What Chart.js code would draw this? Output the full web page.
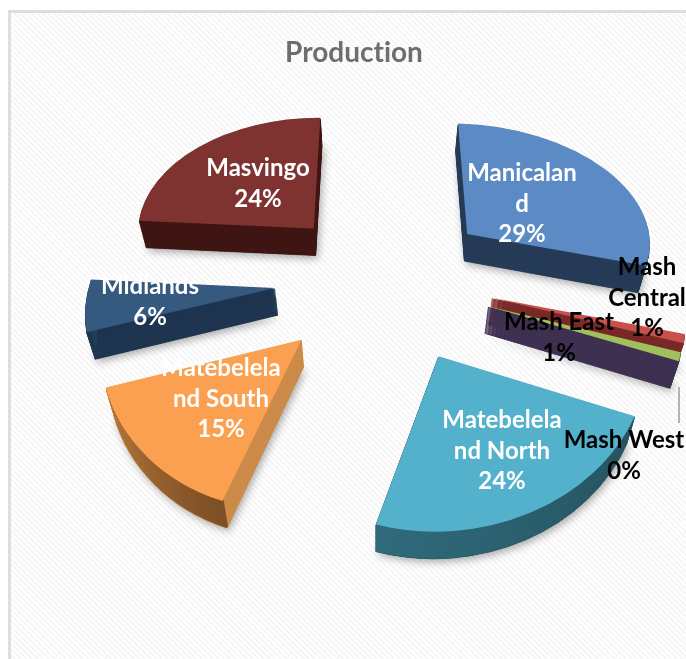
<!DOCTYPE html>
<html>
<head>
    <meta charset="utf-8">
    <title>Production</title>
    <script src="https://cdn.jsdelivr.net/npm/chart.js"></script>
    <style>
        html, body { margin: 0; padding: 0; background: #fff; }
        #frame {
            position: absolute; left: 8px; top: 10px; width: 678px; height: 649px;
            border-left: 3px solid #dedede; border-top: 3px solid #dedede; box-sizing: border-box;
            background: repeating-linear-gradient(45deg, #ffffff 0, #ffffff 2px, #f6f6f6 2px, #f6f6f6 4px);
        }
        canvas { position: absolute; left: 0; top: 0; }
    </style>
</head>
<body>
<div id="frame"></div>
<canvas id="productionChart" width="686" height="659"></canvas>

<script>
    var regions = ['Manicaland', 'Mash Central', 'Mash East', 'Mash West',
                   'Matebeleland North', 'Matebeleland South', 'Midlands', 'Masvingo'];
    var production = [29, 1, 1, 0, 24, 15, 6, 24];

    var topColors  = ['#5b8ac5', '#c9504d', '#a0c05c', '#8064a2', '#53b1cc', '#fb9f50', '#35597f', '#7f3330'];
    var wallColors = ['#263b57', '#7a2a28', '#3f3151', '#3f3151', '#265360', '#cd8b4a', '#1f3550', '#3f1614'];
    // rounded outer edge: colour at the start and the end of the slice's arc
    var rimColors  = [null, null, null, null, ['#265360', '#2f6a7b'], ['#7b4e24', '#b5773c'], ['#1f3550', '#2a4c70'], null];

    // how far each slice is pulled out, then a small screen correction
    var explode = [114, 120, 120, 120, 111, 103, 101, 95];
    var nudge   = [[6, 4], [-1, -6], [-3, -3], [0, 0], [13, -1], [3, 5], [1, 0], [1, -2]];

    var labelLines = [['Manicalan', 'd', '29%'], ['Mash', 'Central', '1%'], ['Mash East', '1%'], ['Mash West', '0%'],
                      ['Matebelela', 'nd North', '24%'], ['Matebelela', 'nd South', '15%'], ['Midlands', '6%'], ['Masvingo', '24%']];
    var labelColors = ['#fff', '#000', '#000', '#000', '#fff', '#fff', '#fff', '#fff'];
    var labelAt = [[522, 204], [647, 298], [559, 338], [624, 456], [502, 451], [221, 399], [150, 302], [258, 184]];

    // camera for the tilted plate
    var tilt = 0.73, perspective = 0.00066, depth = 27, plateShift = 21, underShrink = 0.03;

    function project(arc, x, y) {
        var f = 1 / (1 - perspective * y);
        return [arc.x + plateShift + x * f, arc.y + tilt * y * f];
    }

    // affine map that puts one arc's centre and two corners on their projected spots
    function sliceMatrix(arc, i) {
        var mid = (arc.startAngle + arc.endAngle) / 2, r = arc.outerRadius;
        var ox = explode[i] * Math.cos(mid), oy = explode[i] * Math.sin(mid);
        var p1 = [r * Math.cos(arc.startAngle), r * Math.sin(arc.startAngle)];
        var p2 = [r * Math.cos(arc.endAngle), r * Math.sin(arc.endAngle)];
        var q0 = project(arc, ox, oy);
        var q1 = project(arc, ox + p1[0], oy + p1[1]);
        var q2 = project(arc, ox + p2[0], oy + p2[1]);
        var det = p1[0] * p2[1] - p2[0] * p1[1];
        var u = [q1[0] - q0[0], q1[1] - q0[1]], v = [q2[0] - q0[0], q2[1] - q0[1]];
        return {
            a: (u[0] * p2[1] - v[0] * p1[1]) / det,
            b: (u[1] * p2[1] - v[1] * p1[1]) / det,
            c: (v[0] * p1[0] - u[0] * p2[0]) / det,
            d: (v[1] * p1[0] - u[1] * p2[0]) / det,
            e: q0[0] + nudge[i][0], f: q0[1] + nudge[i][1], p1: p1, p2: p2
        };
    }

    function drawCopy(ctx, arc, m, down, fill, inner, edge) {
        var copy = Object.create(arc);
        var vanish = arc.x + plateShift;
        copy.options = Object.assign({}, arc.options, {
            backgroundColor: fill, borderColor: fill, borderWidth: edge ? 1 : 0, borderAlign: 'center'
        });
        if (inner) copy.innerRadius = inner;
        ctx.save();
        // lower layers of the slab sit further from the camera, so they draw a little narrower
        ctx.translate(vanish, down);
        ctx.scale(1 - underShrink * down / depth, 1);
        ctx.translate(-vanish, 0);
        ctx.translate(m.e, m.f);
        ctx.transform(m.a, m.b, m.c, m.d, 0, 0);
        ctx.translate(-arc.x, -arc.y);
        copy.draw(ctx);
        ctx.restore();
    }

    var tiltedPie = {
        id: 'tiltedPie',
        beforeDraw: function(chart) {
            chart.ctx.textRendering = 'optimizeSpeed';
        },
        beforeDatasetDraw: function(chart) {
            var ctx = chart.ctx;
            var arcs = chart.getDatasetMeta(0).data;
            var order = arcs.map(function(a, i) { return i; }).filter(function(i) { return production[i] > 0; });
            order.sort(function(p, q) {
                return explode[p] * Math.sin((arcs[p].startAngle + arcs[p].endAngle) / 2)
                     - explode[q] * Math.sin((arcs[q].startAngle + arcs[q].endAngle) / 2);
            });
            order.forEach(function(i) {
                var arc = arcs[i], m = sliceMatrix(arc, i), step;
                // soft shadow under the slab
                ctx.save();
                ctx.shadowColor = 'rgba(0,0,0,0.35)';
                ctx.shadowBlur = 9;
                ctx.shadowOffsetX = 2;
                ctx.shadowOffsetY = 3;
                drawCopy(ctx, arc, m, depth, wallColors[i]);
                ctx.restore();
                for (step = depth; step >= 1; step--) {
                    drawCopy(ctx, arc, m, step, wallColors[i], 0, true);
                }
                if (rimColors[i]) {
                    var g = ctx.createLinearGradient(arc.x + m.p1[0], arc.y + m.p1[1], arc.x + m.p2[0], arc.y + m.p2[1]);
                    g.addColorStop(0, rimColors[i][0]);
                    g.addColorStop(1, rimColors[i][1]);
                    for (step = depth; step >= 1; step--) {
                        drawCopy(ctx, arc, m, step, g, arc.outerRadius * 0.985);
                    }
                }
                drawCopy(ctx, arc, m, 0, topColors[i]);
            });
            return false;
        },
        afterDatasetsDraw: function(chart) {
            var ctx = chart.ctx;
            // leader line of the 0% slice
            ctx.strokeStyle = '#b4b4b4';
            ctx.lineWidth = 2;
            ctx.beginPath();
            ctx.moveTo(679, 387);
            ctx.lineTo(679, 423);
            ctx.stroke();

            ctx.font = 'bold 24px Lato';
            ctx.textAlign = 'center';
            ctx.textBaseline = 'middle';
            labelLines.forEach(function(lines, i) {
                ctx.fillStyle = labelColors[i];
                lines.forEach(function(line, n) {
                    ctx.fillText(line, labelAt[i][0], labelAt[i][1] + (n - (lines.length - 1) / 2) * 30.5);
                });
            });
        }
    };

    new Chart(document.getElementById('productionChart'), {
        type: 'pie',
        data: {
            labels: regions,
            datasets: [{ data: production, backgroundColor: topColors, borderWidth: 0, radius: 185 }]
        },
        options: {
            responsive: false,
            animation: false,
            layout: { padding: { bottom: 171, left: 22 } },
            plugins: {
                legend: { display: false },
                tooltip: { enabled: false },
                title: {
                    display: true,
                    text: 'Production',
                    color: '#6e6e6e',
                    padding: { top: 36, bottom: 0 },
                    font: { family: 'Lato', size: 28, weight: 'bold' }
                }
            }
        },
        plugins: [tiltedPie]
    });
</script>
</body>
</html>
